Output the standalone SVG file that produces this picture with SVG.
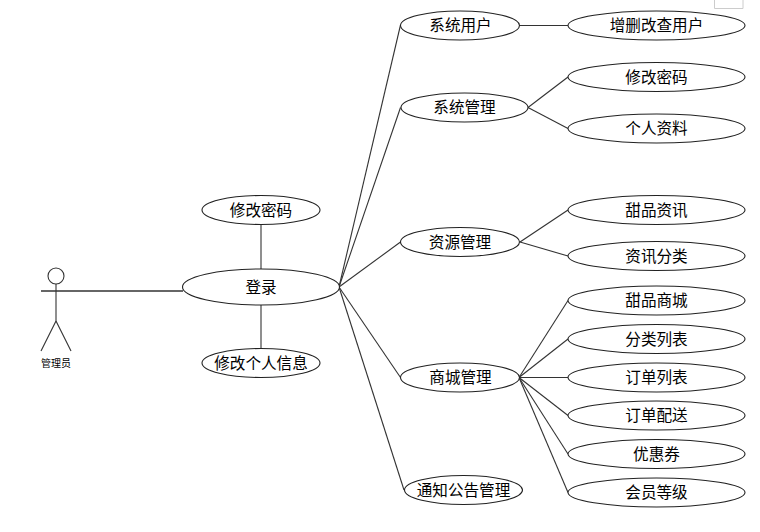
<svg xmlns="http://www.w3.org/2000/svg" width="760" height="532" viewBox="0 0 760 532">
<style>
.n ellipse{fill:#fff;stroke:#222;stroke-width:1.1}
.c line,.a line,.a circle{stroke:#333;stroke-width:1.1;fill:#fff}
text{font-family:"Noto Sans CJK SC","Liberation Sans",sans-serif;font-size:15.6px;fill:#000;text-anchor:middle;dominant-baseline:central}
</style>
<rect width="760" height="532" fill="#fff"/>
<path d="M714.500 0V8.500H743V0" fill="none" stroke="#ccc"/>
<g id="connectors" class="c">
<line x1="41" y1="291" x2="183" y2="291" style="stroke-width:1.5"/>
<line x1="261" y1="224" x2="261" y2="269"/>
<line x1="261" y1="305" x2="261" y2="349"/>
<line x1="339" y1="287" x2="400.500" y2="25"/>
<line x1="339" y1="287" x2="400.500" y2="107.500"/>
<line x1="339" y1="287" x2="400.500" y2="242"/>
<line x1="339" y1="287" x2="400.500" y2="377.500"/>
<line x1="339" y1="287" x2="404" y2="490"/>
<line x1="520" y1="25.500" x2="568" y2="25.500"/>
<line x1="528" y1="107.500" x2="568" y2="77"/>
<line x1="528" y1="107.500" x2="568" y2="128.500"/>
<line x1="520" y1="242" x2="568" y2="210"/>
<line x1="520" y1="242" x2="568" y2="256"/>
<line x1="519" y1="377.500" x2="568" y2="300.500"/>
<line x1="519" y1="377.500" x2="568" y2="339"/>
<line x1="519" y1="377.500" x2="568" y2="377.500"/>
<line x1="519" y1="377.500" x2="568" y2="415.500"/>
<line x1="519" y1="377.500" x2="568" y2="454"/>
<line x1="519" y1="377.500" x2="568" y2="492.500"/>
</g>
<g id="actor" class="a">
<circle cx="56" cy="276" r="8"/>
<line x1="56" y1="284" x2="56" y2="321"/>
<line x1="56" y1="321" x2="41" y2="351"/>
<line x1="56" y1="321" x2="71" y2="351"/>
<text x="56" y="362.500" style="font-size:10px">管理员</text>
</g>
<g id="login" class="n"><ellipse cx="261" cy="287" rx="78.500" ry="18"/><text x="261" y="285.500">登录</text></g>
<g id="pwd1" class="n"><ellipse cx="261" cy="210" rx="59" ry="14.500"/><text x="261" y="209">修改密码</text></g>
<g id="info" class="n"><ellipse cx="261" cy="363" rx="59" ry="14.500"/><text x="261" y="362">修改个人信息</text></g>
<g id="sysuser" class="n"><ellipse cx="460" cy="25.500" rx="59.500" ry="14.500"/><text x="460.500" y="24">系统用户</text></g>
<g id="sysmgr" class="n"><ellipse cx="464.500" cy="107.500" rx="63.500" ry="14.500"/><text x="464.500" y="106">系统管理</text></g>
<g id="res" class="n"><ellipse cx="460" cy="242" rx="59.500" ry="14.500"/><text x="460" y="241">资源管理</text></g>
<g id="shop" class="n"><ellipse cx="460" cy="377.500" rx="59.500" ry="14.500"/><text x="460.500" y="376">商城管理</text></g>
<g id="notice" class="n"><ellipse cx="463.500" cy="490" rx="59" ry="14.500"/><text x="463.500" y="489">通知公告管理</text></g>
<g id="crud" class="n"><ellipse cx="656.500" cy="25.500" rx="88.500" ry="14.500"/><text x="656.500" y="24">增删改查用户</text></g>
<g id="pwd2" class="n"><ellipse cx="656.500" cy="77" rx="88.500" ry="14.500"/><text x="656.500" y="76">修改密码</text></g>
<g id="profile" class="n"><ellipse cx="656.500" cy="128.500" rx="88.500" ry="14.500"/><text x="656.500" y="127">个人资料</text></g>
<g id="news" class="n"><ellipse cx="656.500" cy="210" rx="88.500" ry="14.500"/><text x="656.500" y="209">甜品资讯</text></g>
<g id="newscat" class="n"><ellipse cx="656.500" cy="256" rx="88.500" ry="14.500"/><text x="656.500" y="255">资讯分类</text></g>
<g id="mall" class="n"><ellipse cx="656.500" cy="300.500" rx="88.500" ry="14.500"/><text x="656.500" y="299">甜品商城</text></g>
<g id="catlist" class="n"><ellipse cx="656.500" cy="339" rx="88.500" ry="14.500"/><text x="656.500" y="338">分类列表</text></g>
<g id="orders" class="n"><ellipse cx="656.500" cy="377.500" rx="88.500" ry="14.500"/><text x="656.500" y="376">订单列表</text></g>
<g id="delivery" class="n"><ellipse cx="656.500" cy="415.500" rx="88.500" ry="14.500"/><text x="656.500" y="414">订单配送</text></g>
<g id="coupon" class="n"><ellipse cx="656.500" cy="454" rx="88.500" ry="14.500"/><text x="656.500" y="453">优惠券</text></g>
<g id="level" class="n"><ellipse cx="656.500" cy="492.500" rx="88.500" ry="14.500"/><text x="656.500" y="491">会员等级</text></g>
</svg>
